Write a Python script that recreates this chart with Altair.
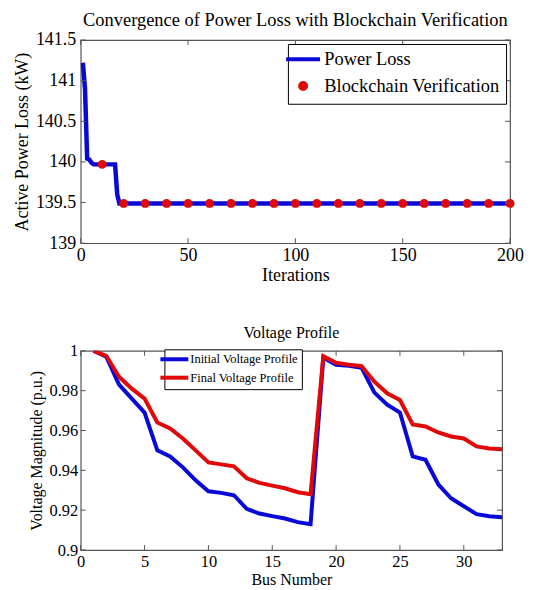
import altair as alt
import pandas as pd

# ---------------- data ----------------
# Top panel: power loss per iteration (change points)
iter_steps = [1, 2, 3, 4, 5, 6, 16, 17, 18, 200]
loss_steps = [141.22, 140.9, 140.04, 140.03, 139.99, 139.97, 139.97, 139.6, 139.49, 139.49]

verify_iters = [10, 20, 30, 40, 50, 60, 70, 80, 90, 100,
                110, 120, 130, 140, 150, 160, 170, 180, 190, 200]
verify_loss = [139.97, 139.49, 139.49, 139.49, 139.49, 139.49, 139.49, 139.49, 139.49, 139.49,
               139.49, 139.49, 139.49, 139.49, 139.49, 139.49, 139.49, 139.49, 139.49, 139.49]

top_x_ticks = [0, 50, 100, 150, 200]
top_y_ticks = [139, 139.5, 140, 140.5, 141, 141.5]

# Bottom panel: voltage profile per bus
bus = list(range(1, 34))
v_initial = [1.000, 0.997, 0.983, 0.976, 0.969, 0.950, 0.947, 0.9415, 0.935, 0.9295,
             0.9287, 0.9275, 0.9207, 0.9183, 0.917, 0.9158, 0.914, 0.913, 0.9965, 0.993,
             0.9925, 0.9915, 0.979, 0.973, 0.969, 0.947, 0.9453, 0.933, 0.926, 0.922,
             0.918, 0.917, 0.9165]
v_final = [1.000, 0.9975, 0.987, 0.981, 0.976, 0.964, 0.961, 0.956, 0.950, 0.944,
           0.943, 0.942, 0.936, 0.9337, 0.9323, 0.931, 0.929, 0.928, 0.9973, 0.994,
           0.993, 0.9923, 0.9845, 0.9787, 0.9753, 0.963, 0.962, 0.959, 0.957, 0.956,
           0.952, 0.951, 0.9506]

bot_x_ticks = [0, 5, 10, 15, 20, 25, 30]
bot_y_ticks = [0.9, 0.92, 0.94, 0.96, 0.98, 1.0]

top_series = ["Power Loss", "Blockchain Verification"]
bot_series = ["Initial Voltage Profile", "Final Voltage Profile"]

# ---------------- style ----------------
FONT = "Liberation Serif"
BLUE = "#0808d8"
RED = "#e00808"
FRAME = "#555555"

TW, TH = 431, 204
BW, BH = 423, 200


def make_axis(values, lsize, tsize, lpad, tpad):
    return alt.Axis(values=values, ticks=False, domain=False, grid=False,
                    labelFlush=False, labelOverlap=False, format="~r",
                    labelFont=FONT, labelFontSize=lsize, labelColor="black",
                    labelPadding=lpad, titleFont=FONT, titleFontSize=tsize,
                    titleFontWeight="normal", titleColor="black", titlePadding=tpad)


def inner_ticks(xvals, yvals, X, Y, xfield, yfield, W, H, L=5):
    xd = pd.DataFrame({xfield: xvals})
    yd = pd.DataFrame({yfield: yvals})
    rule = dict(color=FRAME, strokeWidth=1)
    return [
        alt.Chart(xd).mark_rule(**rule).encode(x=X, y=alt.value(H), y2=alt.value(H - L)),
        alt.Chart(xd).mark_rule(**rule).encode(x=X, y=alt.value(0), y2=alt.value(L)),
        alt.Chart(yd).mark_rule(**rule).encode(y=Y, x=alt.value(0), x2=alt.value(L)),
        alt.Chart(yd).mark_rule(**rule).encode(y=Y, x=alt.value(W - L), x2=alt.value(W)),
    ]


# ---------------- top panel ----------------
top_line_df = pd.DataFrame({"iteration": iter_steps, "loss": loss_steps,
                            "series": ["Power Loss"] * len(iter_steps)})
top_pts_df = pd.DataFrame({"iteration": verify_iters, "loss": verify_loss,
                           "series": ["Blockchain Verification"] * len(verify_iters)})

xs_top = alt.Scale(domain=[0, 200], nice=False, zero=False)
ys_top = alt.Scale(domain=[139, 141.5], nice=False, zero=False)
color_top = alt.Scale(domain=top_series, range=[BLUE, RED])
shape_top = alt.Scale(domain=top_series,
                      range=["M-3.4,0H3.4",
                             "M0.6,0A0.6,0.6,0,1,1,-0.6,0A0.6,0.6,0,1,1,0.6,0"])

top_legend = alt.Legend(title=None, orient="top-right", offset=4,
                        fillColor="white", strokeColor="black", padding=6,
                        labelFont=FONT, labelFontSize=18.5, labelColor="black",
                        labelOffset=12, symbolSize=100, symbolStrokeWidth=4,
                        rowPadding=6, labelLimit=400, cornerRadius=0)

X_top = alt.X("iteration:Q", scale=xs_top, title="Iterations",
              axis=make_axis(top_x_ticks, 18, 18, 3, 2))
Y_top = alt.Y("loss:Q", scale=ys_top, title="Active Power Loss (kW)",
              axis=make_axis(top_y_ticks, 18, 18, 5, 4))

top_line = alt.Chart(top_line_df).mark_line(strokeWidth=4.5, clip=True).encode(
    x=X_top, y=Y_top,
    color=alt.Color("series:N", scale=color_top, legend=top_legend))
top_pts = alt.Chart(top_pts_df).mark_point(filled=True, size=225, opacity=1).encode(
    x=X_top, y=Y_top,
    color=alt.Color("series:N", scale=color_top, legend=top_legend),
    shape=alt.Shape("series:N", scale=shape_top, legend=top_legend))

top = alt.layer(top_line, top_pts,
                *inner_ticks(top_x_ticks, top_y_ticks, X_top, Y_top,
                             "iteration", "loss", TW, TH)).properties(
    width=TW, height=TH,
    title=alt.TitleParams("Convergence of Power Loss with Blockchain Verification",
                          font=FONT, fontSize=18.5, fontWeight="normal", color="black",
                          anchor="middle", offset=2))

# ---------------- bottom panel ----------------
init_df = pd.DataFrame({"bus": bus, "voltage": v_initial,
                        "profile": ["Initial Voltage Profile"] * len(bus)})
final_df = pd.DataFrame({"bus": bus, "voltage": v_final,
                         "profile": ["Final Voltage Profile"] * len(bus)})

xs_bot = alt.Scale(domain=[0, 33], nice=False, zero=False)
ys_bot = alt.Scale(domain=[0.9, 1.0], nice=False, zero=False)
color_bot = alt.Scale(domain=bot_series, range=[BLUE, RED])

bot_legend = alt.Legend(title=None, orient="none", legendX=84, legendY=-1.5,
                        fillColor="white", strokeColor="black", padding=3,
                        labelFont=FONT, labelFontSize=12.5, labelColor="black",
                        labelOffset=9, symbolType="M-2.8,0H2.8", symbolSize=100,
                        symbolStrokeWidth=4, rowPadding=2.5, labelLimit=400,
                        cornerRadius=0)

X_bot = alt.X("bus:Q", scale=xs_bot, title="Bus Number",
              axis=make_axis(bot_x_ticks, 16.5, 16, 4, 1))
Y_bot = alt.Y("voltage:Q", scale=ys_bot, title="Voltage Magnitude (p.u.)",
              axis=make_axis(bot_y_ticks, 16.5, 16, 3, 4))

bot_init = alt.Chart(init_df).mark_line(strokeWidth=4, clip=True).encode(
    x=X_bot, y=Y_bot,
    color=alt.Color("profile:N", scale=color_bot, legend=bot_legend))
bot_final = alt.Chart(final_df).mark_line(strokeWidth=4, clip=True).encode(
    x=X_bot, y=Y_bot,
    color=alt.Color("profile:N", scale=color_bot, legend=bot_legend))

bottom = alt.layer(bot_init, bot_final,
                   *inner_ticks(bot_x_ticks, bot_y_ticks, X_bot, Y_bot,
                                "bus", "voltage", BW, BH)).properties(
    width=BW, height=BH,
    title=alt.TitleParams("Voltage Profile", font=FONT, fontSize=16,
                          fontWeight="normal", color="black",
                          anchor="middle", offset=2))

chart = alt.vconcat(top, bottom, spacing=39).resolve_scale(
    color="independent", shape="independent", x="independent", y="independent"
).resolve_legend(color="independent", shape="independent").properties(
    padding={"left": 4, "top": 0, "right": 0, "bottom": 0}
).configure_view(stroke=FRAME, strokeWidth=1.2)

chart.save("out.html", embed_options={"renderer": "svg", "actions": False})
